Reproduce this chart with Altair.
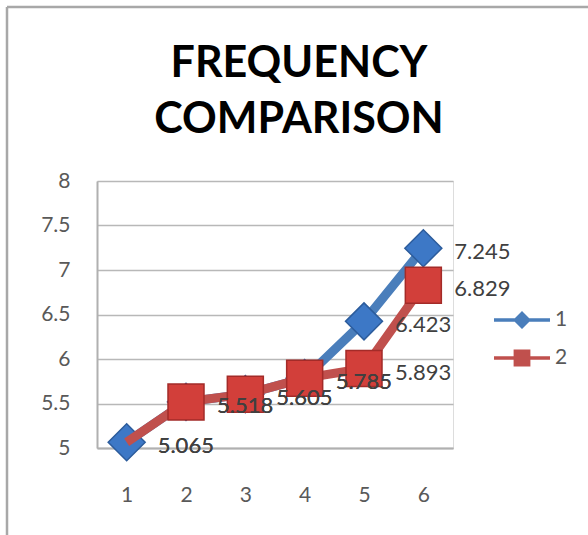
import altair as alt
import pandas as pd

categories = ["1", "2", "3", "4", "5", "6"]
series_names = ["1", "2"]
values_1 = [5.065, 5.518, 5.605, 5.785, 6.423, 7.245]
values_2 = [5.065, 5.518, 5.605, 5.785, 5.893, 6.829]
marker_shown_2 = [False, True, True, True, True, True]
y_ticks = [5, 5.5, 6, 6.5, 7, 7.5, 8]

rows = []
for c, v in zip(categories, values_1):
    rows.append({"x": c, "y": v, "series": "1", "marker": True})
for c, v, m in zip(categories, values_2, marker_shown_2):
    rows.append({"x": c, "y": v, "series": "2", "marker": m})
df = pd.DataFrame(rows)

FONT = "Lato"
line_colors = {"1": "#4a7ebb", "2": "#c0504d"}
marker_fill = {"1": "#3d78c6", "2": "#d23f3a"}
marker_stroke = {"1": "#2c5c9c", "2": "#a32b28"}
marker_shape = {"1": "diamond", "2": "square"}
marker_size = {"1": 1369, "2": 1296}

x_enc = alt.X("x:O", sort=categories,
              axis=alt.Axis(title=None, labelAngle=0, ticks=False, labelPadding=36,
                            domainColor="#b0b0b0", domainWidth=2, grid=False,
                            labelFont=FONT, labelFontSize=21, labelColor="#595959"))
y_enc = alt.Y("y:Q", scale=alt.Scale(domain=[5, 8], nice=False, zero=False),
              axis=alt.Axis(title=None, values=y_ticks, ticks=False, labelPadding=27,
                            format=".2~f",
                            domainColor="#b0b0b0", domainWidth=2,
                            gridColor="#b8b8b8", gridWidth=1.6,
                            labelFont=FONT, labelFontSize=21, labelColor="#595959"))

base = alt.Chart(df)
layers = []
for s in series_names:
    sub = base.transform_filter(alt.datum.series == s)
    layers.append(sub.mark_line(color=line_colors[s], strokeWidth=9).encode(x=x_enc, y=y_enc))
    layers.append(sub.transform_filter(alt.datum.marker == True).mark_point(
        shape=marker_shape[s], filled=True, size=marker_size[s], fill=marker_fill[s],
        stroke=marker_stroke[s], strokeWidth=1.5, opacity=1).encode(x=x_enc, y=y_enc))
for s in series_names:
    sub = base.transform_filter(alt.datum.series == s)
    layers.append(sub.mark_text(align="left", baseline="middle", dx=31, dy=4,
                                fontSize=22, font=FONT, color="#404040").encode(
        x=x_enc, y=y_enc, text=alt.Text("y:Q", format=".3f")))

# legend-only layer (no data drawn)
diamond_path = "M-1.4,-0.09L1.4,-0.09L1.4,0.09L-1.4,0.09Z M-0.45,0L0,-0.45L0.45,0L0,0.45Z"
square_path = "M-1.4,-0.09L1.4,-0.09L1.4,0.09L-1.4,0.09Z M-0.42,-0.42L0.42,-0.42L0.42,0.42L-0.42,0.42Z"
leg = alt.Legend(title=None, orient="none", legendX=405, legendY=119,
                 symbolSize=1600, rowPadding=8, labelOffset=13,
                 labelFont=FONT, labelFontSize=21, labelColor="#595959",
                 symbolStrokeWidth=0, padding=0)
legend_layer = base.transform_filter("false").mark_point(filled=True, opacity=1).encode(
    x=x_enc, y=y_enc,
    color=alt.Color("series:N", scale=alt.Scale(domain=series_names,
                                                 range=[line_colors["1"], line_colors["2"]]),
                    legend=leg),
    shape=alt.Shape("series:N", scale=alt.Scale(domain=series_names,
                                                 range=[diamond_path, square_path]),
                    legend=leg),
)
layers.append(legend_layer)

# chart frame (decoration)
frame_df = pd.DataFrame({"k": [0]})
frame = alt.Chart(frame_df)
layers.append(frame.mark_rule(color="#a8a8a8", strokeWidth=2.5).encode(
    x=alt.value(-90), x2=alt.value(491), y=alt.value(-174)))
layers.append(frame.mark_rule(color="#a8a8a8", strokeWidth=2.5).encode(
    x=alt.value(-90), y=alt.value(-174), y2=alt.value(354)))

chart = alt.layer(*layers).properties(
    width=356, height=267,
    title=alt.TitleParams(text=["FREQUENCY", "COMPARISON"], font=FONT, fontSize=43,
                          fontWeight="bold", color="#000000", anchor="middle",
                          lineHeight=56, baseline="bottom", offset=-179, dx=24),
    padding={"left": 97, "top": 181, "right": 135, "bottom": 87},
    autosize=alt.AutoSizeParams(type="none"),
).configure_view(stroke=None).configure(background="#ffffff")

chart.save("out.html", embed_options={"renderer": "svg", "actions": False})
